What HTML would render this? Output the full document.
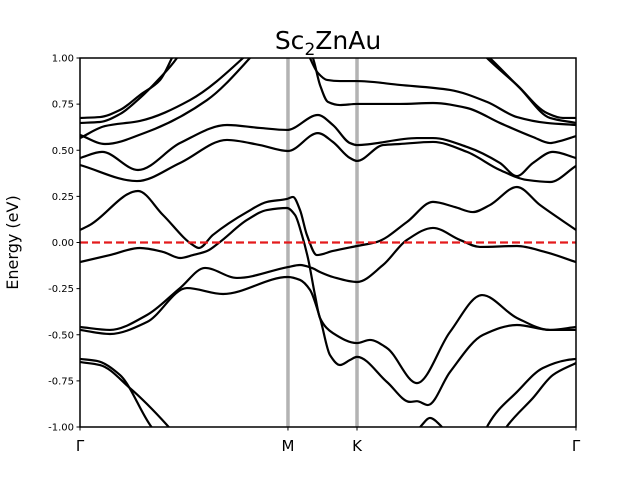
<!DOCTYPE html>
<html><head><meta charset="utf-8"><style>
html,body{margin:0;padding:0;background:#fff;overflow:hidden;width:640px;height:480px;}
svg{display:block;}
svg text{font-family:"DejaVu Sans","Liberation Sans",sans-serif;}
</style></head><body>
<svg id="chart" width="640" height="480" viewBox="0 0 640 480" xmlns="http://www.w3.org/2000/svg">
<defs><clipPath id="clip"><rect x="80" y="58" width="496" height="369"/></clipPath></defs>
<text x="328" y="49" font-size="25" text-anchor="middle">Sc<tspan font-size="17" dy="6">2</tspan><tspan dy="-6">ZnAu</tspan></text>
<text transform="translate(18,242.5) rotate(-90)" font-size="16" text-anchor="middle">Energy (eV)</text>
<g id="bands" clip-path="url(#clip)"></g>
<g id="axes"></g>
<rect x="80" y="58" width="496" height="369" fill="none" stroke="#000" stroke-width="1.5"/>
</svg>
<script>
const yTicks=[1.00,0.75,0.50,0.25,0.00,-0.25,-0.50,-0.75,-1.00];
const kLabels=["Γ","M","K","Γ"];
const kPositions=[0,1.0,1.332,2.385];
const fermiLevel=0;
const bandA=[[0,-.631],[.082,-.642],[.192,-.718],[.337,-.989],[.433,-1.125],[1.0,-1.5],[1.9,-1.2],[1.962,-.989],[2.101,-.810],[2.226,-.680],[2.341,-.637],[2.385,-.631]];
const bandB=[[0,-.648],[.096,-.664],[.240,-.789],[.418,-.989],[.5,-1.1],[1.0,-1.5],[1.9,-1.3],[2.058,-.989],[2.178,-.843],[2.274,-.718],[2.385,-.653]];
const bandC=[[1.45,-1.3],[1.538,-1.179],[1.644,-.989],[1.683,-.951],[1.731,-.989],[1.827,-1.179],[1.9,-1.3]];
const bandD=[[0,-.458],[.144,-.474],[.322,-.393],[.481,-.247],[.601,-.138],[.755,-.192],[1.0,-.133],[1.058,-.122],[1.115,-.138],[1.154,-.160],[1.216,-.187],[1.332,-.214],[1.457,-.122],[1.572,.014],[1.697,.079],[1.827,.014],[1.923,-.024],[2.101,-.019],[2.236,-.051],[2.385,-.106]];
const bandE=[[0,-.474],[.144,-.496],[.322,-.431],[.514,-.247],[.688,-.279],[1.0,-.187],[1.058,-.203],[1.106,-.257],[1.154,-.409],[1.202,-.610],[1.250,-.664],[1.298,-.637],[1.332,-.620],[1.476,-.756],[1.587,-.864],[1.620,-.860],[1.673,-.881],[1.779,-.702],[1.938,-.501],[2.101,-.447],[2.260,-.474],[2.385,-.474]];
const bandY=[[0,-.106],[.144,-.068],[.288,-.030],[.399,-.051],[.481,-.084],[.543,-.068],[.611,-.046],[.673,.003],[.803,.122],[.899,.176],[.995,.187],[1.034,.149],[1.067,.041],[1.096,-.084],[1.130,-.285],[1.154,-.409],[1.216,-.491],[1.332,-.545],[1.394,-.528],[1.476,-.572],[1.620,-.762],[1.779,-.485],[1.933,-.285],[2.101,-.409],[2.260,-.474],[2.385,-.458]];
const bandL=[[0,.068],[.048,.095],[.279,.279],[.399,.149],[.543,-.014],[.572,-.030],[.639,.041],[.803,.165],[.899,.220],[.995,.236],[1.024,.247],[1.058,.176],[1.091,.041],[1.139,-.068],[1.216,-.046],[1.332,-.019],[1.428,.003],[1.572,.111],[1.697,.220],[1.803,.192],[1.889,.165],[1.971,.203],[2.101,.301],[2.212,.203],[2.385,.068]];
const bandM2=[[0,.420],[.274,.333],[.481,.431],[.707,.556],[.865,.528],[1.0,.496],[1.144,.593],[1.216,.545],[1.298,.458],[1.332,.442],[1.457,.528],[1.538,.534],[1.697,.545],[1.861,.491],[2.019,.393],[2.149,.339],[2.260,.328],[2.385,.415]];
const bandM1=[[0,.458],[.106,.491],[.279,.393],[.481,.539],[.707,.637],[.865,.621],[.995,.610],[1.144,.691],[1.216,.637],[1.298,.539],[1.332,.528],[1.620,.566],[1.697,.566],[1.861,.518],[2.019,.431],[2.101,.360],[2.178,.431],[2.274,.491],[2.385,.458]];
const bandU3=[[0,.566],[.120,.631],[.288,.659],[.529,.772],[.784,1.0],[.95,1.2],[1.06,1.15],[1.106,1.0],[1.144,.919],[1.188,.881],[1.25,.875],[1.332,.875],[1.538,.854],[1.779,.827],[1.957,.762],[2.101,.680],[2.245,.648],[2.385,.637]];
const bandU4=[[0,.583],[.120,.534],[.322,.599],[.611,.772],[.817,1.0],[1.0,1.25],[1.12,1.0],[1.154,.854],[1.192,.762],[1.25,.745],[1.332,.751],[1.538,.751],[1.697,.756],[1.861,.729],[2.019,.648],[2.178,.572],[2.26,.539],[2.308,.550],[2.385,.577]];
const bandU1=[[0,.675],[.096,.680],[.192,.718],[.288,.799],[.385,.881],[.442,1.0],[.6,1.4],[1.5,1.6],[1.957,1.0],[2.101,.854],[2.245,.702],[2.322,.675],[2.385,.675]];
const bandU2=[[0,.648],[.096,.653],[.192,.696],[.288,.783],[.375,.881],[.466,1.0],[.6,1.3],[1.5,1.5],[1.971,1.0],[2.115,.837],[2.260,.675],[2.385,.648]];
const bands=[bandA,bandB,bandC,bandD,bandE,bandY,bandL,bandM2,bandM1,bandU3,bandU4,bandU1,bandU2];

const NS="http://www.w3.org/2000/svg";
const X0=80,X1=576,Y0=427,Y1=58,KMAX=2.385,EMIN=-1,EMAX=1;
function xS(k){return X0+(k/KMAX)*(X1-X0);}
function yS(e){return Y0-(e-EMIN)/(EMAX-EMIN)*(Y0-Y1);}
function mk(t,a){const el=document.createElementNS(NS,t);for(const n in a)el.setAttribute(n,a[n]);return el;}
const bg=document.getElementById('bands'),ax=document.getElementById('axes');
kPositions.slice(1,3).forEach((k,i)=>{
  const l=mk('line',{x1:xS(k),x2:xS(k),y1:Y1,y2:Y0,stroke:'#b3b3b3','stroke-width':3.5});
  
  
  bg.appendChild(l);
});
function spline(pts){
  const p=pts.map(q=>[xS(q[0]),yS(q[1])]);const n=p.length;
  const dx=[],s=[];
  for(let i=0;i<n-1;i++){dx.push(p[i+1][0]-p[i][0]);s.push((p[i+1][1]-p[i][1])/dx[i]);}
  const m=new Array(n);
  m[0]=s[0];m[n-1]=s[n-2];
  for(let i=1;i<n-1;i++){
    if(s[i-1]*s[i]<=0)m[i]=0;
    else{const w1=2*dx[i]+dx[i-1],w2=dx[i]+2*dx[i-1];m[i]=(w1+w2)/(w1/s[i-1]+w2/s[i]);}
  }
  let d='M'+p[0][0].toFixed(2)+','+p[0][1].toFixed(2);
  for(let i=0;i<n-1;i++){
    const h=dx[i]/3;
    d+=' C'+(p[i][0]+h).toFixed(2)+','+(p[i][1]+m[i]*h).toFixed(2)+' '+(p[i+1][0]-h).toFixed(2)+','+(p[i+1][1]-m[i+1]*h).toFixed(2)+' '+p[i+1][0].toFixed(2)+','+p[i+1][1].toFixed(2);
  }
  return d;
}
bands.forEach((b,i)=>{
  const p=mk('path',{d:spline(b),fill:'none',stroke:'#000','stroke-width':2.2,'stroke-linejoin':'round'});
  
  
  bg.appendChild(p);
});
const f=mk('line',{x1:X0,x2:X1,y1:yS(fermiLevel),y2:yS(fermiLevel),stroke:'#e41a1c','stroke-width':2.2,'stroke-dasharray':'8,4'});


bg.appendChild(f);
yTicks.forEach(v=>{
  const y=yS(v);
  const t=mk('line',{x1:X0-3.5,x2:X0,y1:y,y2:y,stroke:'#000','stroke-width':1});
  
  
  ax.appendChild(t);
  const tx=mk('text',{x:X0-6,y:y+3.5,'font-size':10,'text-anchor':'end'});
  tx.textContent=v.toFixed(2);
  
  
  ax.appendChild(tx);
});
kPositions.forEach((k,i)=>{
  const x=xS(k);
  const t=mk('line',{x1:x,x2:x,y1:Y0,y2:Y0+3.5,stroke:'#000','stroke-width':1});
  
  
  ax.appendChild(t);
  const tx=mk('text',{x:x,y:Y0+24,'font-size':15,'text-anchor':'middle'});
  tx.textContent=kLabels[i];
  
  
  ax.appendChild(tx);
});
</script>
</body></html>
